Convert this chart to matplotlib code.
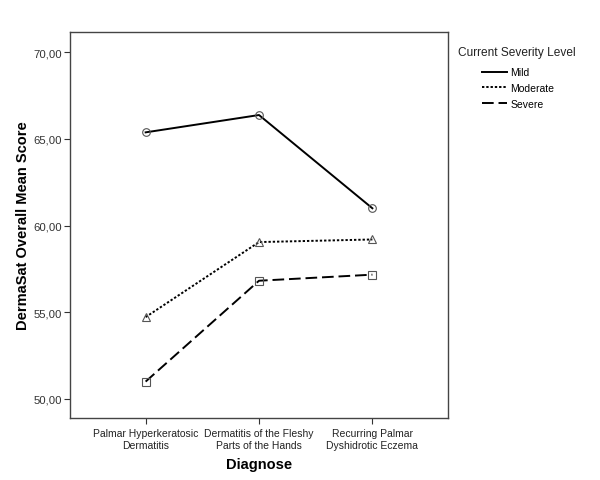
import matplotlib

matplotlib.use("Agg")
import matplotlib.pyplot as plt  # noqa: E402
from matplotlib.lines import Line2D  # noqa: E402
from matplotlib.ticker import FuncFormatter  # noqa: E402

plt.rcParams["font.family"] = ["Liberation Sans", "DejaVu Sans"]

CATEGORIES = ["Palmar Hyperkeratosic\nDermatitis", "Dermatitis of the Fleshy\nParts of the Hands",
              "Recurring Palmar\nDyshidrotic Eczema"]
MILD = [65.38, 66.38, 61.00]
MODERATE = [54.72, 59.05, 59.20]
SEVERE = [51.00, 56.82, 57.17]
YTICKS = [50, 55, 60, 65, 70]
SERIES = [("Mild", MILD, "-", "o"),
          ("Moderate", MODERATE, (0, (1.2, 1.0)), "^"),
          ("Severe", SEVERE, (0, (6, 2.5)), "s")]

fig = plt.figure(figsize=(6.0, 4.81), dpi=100)
ax = fig.add_axes([70 / 600, 1 - 419 / 481, (448 - 70) / 600, (419 - 33) / 481])

x = range(len(CATEGORIES))
mk = dict(markerfacecolor="none", markeredgecolor="#555555", markeredgewidth=0.8, markersize=5.5)
for name, vals, ls, m in SERIES:
    ax.plot(x, vals, color="black", lw=1.4, ls=ls, marker=m, label=name, **mk)

ax.set_xlim(-0.667, 2.667)
ax.set_ylim(48.9, 71.17)
ax.set_xticks(list(x))
ax.set_xticklabels(CATEGORIES, fontsize=7.5, color="#222222")
ax.set_yticks(YTICKS)
ax.yaxis.set_major_formatter(FuncFormatter(lambda v, _: f"{v:.2f}".replace(".", ",")))
ax.tick_params(axis="y", labelsize=8.2, colors="#333333", length=4, width=0.8, pad=2)
ax.tick_params(axis="x", length=4, width=0.8, colors="#333333", labelcolor="#222222")
for s in ax.spines.values():
    s.set_color("#444444")
    s.set_linewidth(1.0)

ax.set_xlabel("Diagnose", fontsize=10.5, fontweight="bold", labelpad=5)
ax.set_ylabel("DermaSat Overall Mean Score", fontsize=10.5, fontweight="bold")
ax.yaxis.set_label_coords(-0.106, 0.5)

# legend: title on its own, entries indented below it
fig.text(458 / 600, 1 - 53 / 481, "Current Severity Level", fontsize=8.6, color="#222222",
         va="center", ha="left")
handles = [Line2D([], [], color="black", lw=1.4, ls=ls) for _, _, ls, _ in SERIES]
fig.legend(handles, [s[0] for s in SERIES], loc="upper left",
           bbox_to_anchor=(478 / 600, 1 - 64 / 481), frameon=False, fontsize=7.5,
           handlelength=2.4, handletextpad=0.3, labelspacing=0.55, borderaxespad=0)

fig.savefig("out.png", dpi=100)
